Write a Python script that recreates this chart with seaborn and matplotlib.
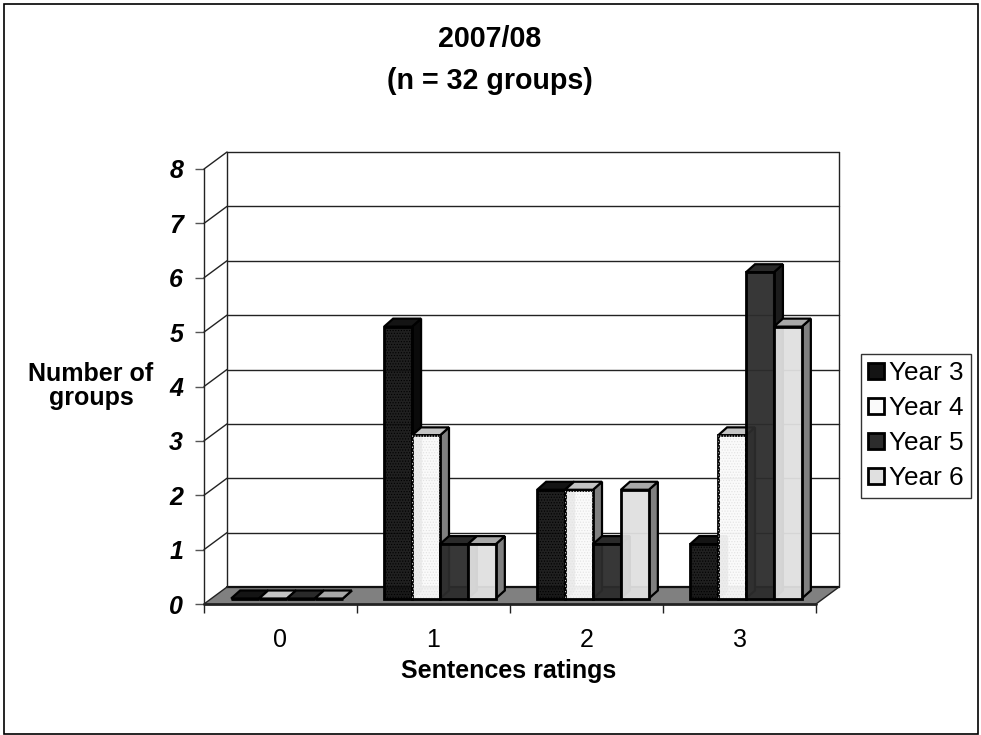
import matplotlib
matplotlib.use('Agg')
import numpy as np
import pandas as pd
import matplotlib.pyplot as plt
import seaborn as sns
from matplotlib.colors import to_rgba
from matplotlib.patches import Polygon, Rectangle

# Data
ratings = ['0', '1', '2', '3']
year_3 = [0, 5, 2, 1]
year_4 = [0, 3, 2, 3]
year_5 = [0, 1, 1, 6]
year_6 = [0, 1, 2, 5]
y_ticks = [0, 1, 2, 3, 4, 5, 6, 7, 8]

W, H = 981, 735
sns.set_theme(style='white')
plt.rcParams['font.family'] = ['Liberation Sans', 'DejaVu Sans']
plt.rcParams['text.color'] = 'black'
plt.rcParams['hatch.linewidth'] = 0.5

df = pd.DataFrame({'rating': ratings, 'Year 3': year_3, 'Year 4': year_4,
                   'Year 5': year_5, 'Year 6': year_6})
df = df.melt(id_vars='rating', var_name='year', value_name='groups')

# front / side / top colours for each series
front = {'Year 3': '#141414', 'Year 4': '#fafafa', 'Year 5': '#2c2c2c', 'Year 6': '#e0e0e0'}
side = {'Year 3': '#0a0a0a', 'Year 4': '#808080', 'Year 5': '#1c1c1c', 'Year 6': '#808080'}
top = {'Year 3': '#141414', 'Year 4': '#c4c4c4', 'Year 5': '#2a2a2a', 'Year 6': '#a8a8a8'}
stipple = {'Year 3': '#000000', 'Year 4': '#e2e2e2'}

fig = plt.figure(figsize=(W / 100, H / 100), dpi=100)
fig.patch.set_facecolor('white')
fig.add_artist(Rectangle((3.5 / W, 1.5 / H), (W - 7) / W, (H - 5) / H, transform=fig.transFigure,
                         fill=False, edgecolor='black', linewidth=1.2))

# axes = front plane of the 3D box
ax = fig.add_axes([204 / W, 1 - 604 / H, 612 / W, 435 / H])
ax.patch.set_alpha(0)

sns.barplot(data=df, x='rating', y='groups', hue='year', order=ratings, palette=front,
            width=0.73, legend=False, ax=ax, zorder=5, saturation=1)
ax.set_xlim(-0.5, 3.5)
ax.set_ylim(0, 8)

# pixel sizes of the fake depth, turned into data units
px_x = 4 / 612
px_y = 8 / 435
wall_dx, wall_dy = 23 * px_x, 17 * px_y
bar_dx, bar_dy = 9 * px_x, 8 * px_y
shift_x, shift_y = 6.5 * px_x, 5.5 * px_y

# floor and walls
floor = [(-0.5, 0), (3.5, 0), (3.5 + wall_dx, wall_dy), (-0.5 + wall_dx, wall_dy)]
ax.add_patch(Polygon(floor, facecolor='#808080', edgecolor='none', clip_on=False, zorder=1))
ax.plot([-0.5, 3.5], [0, 0], color='#222222', lw=2, clip_on=False, zorder=2)
ax.plot([-0.5 + wall_dx, 3.5 + wall_dx], [wall_dy, wall_dy], color='#111111', lw=1.6,
        clip_on=False, zorder=2)
ax.plot([3.5, 3.5 + wall_dx], [0, wall_dy], color='#222222', lw=1, clip_on=False, zorder=2)
ax.plot([3.5 + wall_dx] * 2, [wall_dy, 8 + wall_dy], color='#222222', lw=1, clip_on=False, zorder=2)
ax.plot([-0.5 + wall_dx] * 2, [wall_dy, 8 + wall_dy], color='#222222', lw=1, clip_on=False, zorder=2)
for t in y_ticks:
    ax.plot([-0.5, -0.5 + wall_dx], [t, t + wall_dy], color='#222222', lw=1, clip_on=False, zorder=2)
    if t > 0:
        ax.plot([-0.5 + wall_dx, 3.5 + wall_dx], [t + wall_dy, t + wall_dy], color='#222222', lw=1,
                clip_on=False, zorder=2)

# extrude the bars, left to right so each one covers its neighbour's side
for cont, name in zip(ax.containers, ['Year 3', 'Year 4', 'Year 5', 'Year 6']):
    for bar in cont:
        bar.set_x(bar.get_x() + shift_x)
        bar.set_y(bar.get_y() + shift_y)
        x0, w, y0, h = bar.get_x(), bar.get_width(), bar.get_y(), bar.get_height()
        z = 5 + x0
        bar.set_zorder(z + 0.03)
        bar.set_facecolor(to_rgba(front[name], 0.95))
        bar.set_edgecolor('black')
        bar.set_linewidth(2)
        bar.set_clip_on(False)
        x1, y1 = x0 + w, y0 + h
        ax.add_patch(Polygon([(x1, y0), (x1 + bar_dx, y0 + bar_dy), (x1 + bar_dx, y1 + bar_dy), (x1, y1)],
                             facecolor=side[name], edgecolor='black', lw=1.6, clip_on=False, zorder=z))
        ax.add_patch(Polygon([(x0, y1), (x1, y1), (x1 + bar_dx, y1 + bar_dy), (x0 + bar_dx, y1 + bar_dy)],
                             facecolor=top[name], edgecolor='black', lw=1.6, clip_on=False, zorder=z + 0.01))
        if name in stipple and h > 0:
            ax.add_patch(Rectangle((x0, y0), w, h, fill=False, hatch='......', edgecolor=stipple[name],
                                   lw=0, clip_on=False, zorder=z + 0.04))

# axes, ticks
for s in ['top', 'right']:
    ax.spines[s].set_visible(False)
ax.spines['bottom'].set_visible(False)
ax.spines['left'].set_color('#222222')
ax.spines['left'].set_linewidth(1)
ax.set_yticks(y_ticks)
ax.set_yticklabels(y_ticks, fontsize=18, fontweight='bold', fontstyle='italic', color='black')
ax.tick_params(axis='y', left=True, length=6.5, width=1, color='#555555', pad=8.5)
ax.set_xticks(range(4))
ax.set_xticklabels(ratings, fontsize=18, color='black')
ax.tick_params(axis='x', bottom=False, pad=11.4)
ax.set_xticks(np.arange(-0.5, 4), minor=True)
ax.tick_params(axis='x', which='minor', bottom=True, length=6.5, width=1, color='#222222')
ax.set_xlabel('')
ax.set_ylabel('')

fig.text(490 / W, 1 - 60 / H, '2007/08\n(n = 32 groups)', ha='center', va='center', fontsize=20.6,
         fontweight='bold', linespacing=1.6)
fig.text(91 / W, 1 - 386 / H, 'Number of\ngroups', ha='center', va='center', fontsize=18,
         fontweight='bold', linespacing=1.05)
fig.text(509 / W, 1 - 671 / H, 'Sentences ratings', ha='center', va='center', fontsize=18,
         fontweight='bold')

handles = [Rectangle((0, 0), 1, 1, facecolor=front[n], edgecolor='black', lw=2) for n in front]
leg = ax.legend(handles, list(front), loc='upper left', bbox_to_anchor=(861 / W, 1 - 354 / H),
                bbox_transform=fig.transFigure, fontsize=18.8, fancybox=False, framealpha=1,
                edgecolor='#333333', handlelength=0.6, handleheight=0.6, handletextpad=0.2,
                labelspacing=0.42, borderpad=0.28, borderaxespad=0, labelcolor='black')
leg.get_frame().set_linewidth(1)
leg.set_zorder(20)

fig.savefig('out.png', dpi=100)
